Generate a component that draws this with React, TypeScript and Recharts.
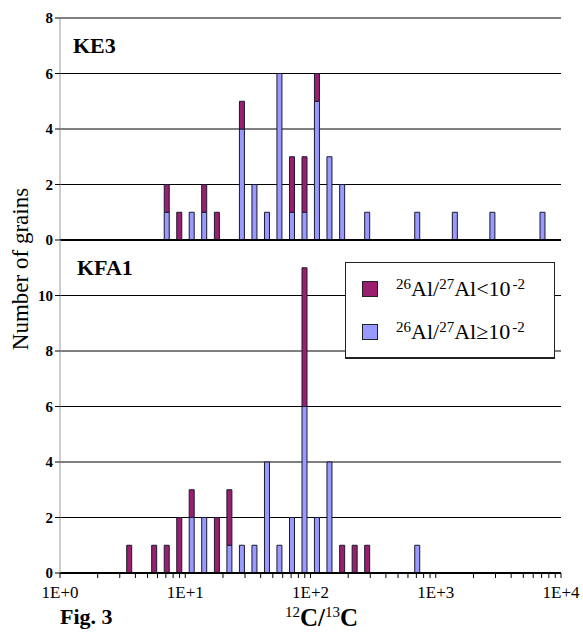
import { Bar, BarChart, CartesianGrid, Legend, XAxis, YAxis } from 'recharts'

// 12C/13C bin centres (log bins, 0.1 dex wide)
const ratioBins = [
  3.55, 5.62, 7.08, 8.91, 11.2, 14.1, 17.8, 22.4, 28.2, 35.5, 44.7, 56.2,
  70.8, 89.1, 112, 141, 178, 224, 282, 708, 1413, 2818, 7079,
]

// number of grains per bin; "low" = 26Al/27Al < 1e-2, "high" = 26Al/27Al >= 1e-2
const ke3Low = [0, 0, 1, 1, 0, 1, 1, 0, 1, 0, 0, 0, 2, 2, 1, 0, 0, 0, 0, 0, 0, 0, 0]
const ke3High = [0, 0, 1, 0, 1, 1, 0, 0, 4, 2, 1, 6, 1, 1, 5, 3, 2, 0, 1, 1, 1, 1, 1]
const kfa1Low = [1, 1, 1, 2, 1, 0, 2, 2, 0, 0, 0, 0, 0, 5, 0, 0, 1, 1, 1, 0, 0, 0, 0]
const kfa1High = [0, 0, 0, 0, 2, 2, 0, 1, 1, 1, 4, 1, 2, 6, 2, 4, 0, 0, 0, 1, 0, 0, 0]

const decades = [0, 1, 2, 3, 4] // exponents of the x axis labels
const ke3Ticks = [0, 2, 4, 6, 8]
const kfa1Ticks = [0, 2, 4, 6, 8, 10]

const RED = '#9a1f6f'
const BLUE = '#9999ff'
const FONT = 'Liberation Serif, DejaVu Serif, serif'

function buildData(low: number[], high: number[]) {
  return ratioBins.map((r, i) => ({ x: Math.log10(r), low: low[i], high: high[i] }))
}

// major ticks at each decade plus minor ticks 2..9 inside each decade
const logTicks: number[] = []
decades.forEach((d) => {
  logTicks.push(d)
  if (d < 4) for (let m = 2; m <= 9; m++) logTicks.push(d + Math.log10(m))
})

const fmtDecade = (v: number) => (Math.abs(v - Math.round(v)) < 1e-9 ? `1E+${Math.round(v)}` : '')

const sup = (t: string, top = -7, size = 15) => (
  <span style={{ fontSize: size, position: 'relative', top }}>{t}</span>
)

const legendLabels: Record<string, any> = {
  low: (
    <>
      {sup('26')}Al/{sup('27')}Al&lt;10<span style={{ marginLeft: 2 }}>{sup('-2')}</span>
    </>
  ),
  high: (
    <>
      {sup('26')}Al/{sup('27')}Al≥10<span style={{ marginLeft: 2 }}>{sup('-2')}</span>
    </>
  ),
}

function LegendBox(props: any) {
  const items = [...(props.payload || [])].reverse()
  return (
    <div
      style={{
        width: 208,
        height: 94,
        background: '#fff',
        border: '1px solid #222',
        borderBottomWidth: 2,
        fontFamily: FONT,
        fontSize: 22,
        color: '#000',
        position: 'relative',
      }}
    >
      {items.map((it: any, i: number) => (
        <div key={it.dataKey} style={{ position: 'absolute', left: 16, top: 13 + i * 43, height: 26, display: 'flex', alignItems: 'center', whiteSpace: 'nowrap' }}>
          <span style={{ width: 14, height: 14, background: it.color, border: '1px solid #222', display: 'inline-block', marginRight: 18 }} />
          <span>{legendLabels[it.dataKey]}</span>
        </div>
      ))}
    </div>
  )
}

const yTick = { fill: '#000', fontSize: 15, fontWeight: 'bold' as const, fontFamily: FONT }

export default function App() {
  const ke3 = buildData(ke3Low, ke3High)
  const kfa1 = buildData(kfa1Low, kfa1High)
  return (
    <div style={{ position: 'absolute', left: 0, top: 0, width: 583, height: 633, background: '#fff', fontFamily: FONT }}>
      <div style={{ position: 'absolute', left: 0, top: 0 }}>
        <BarChart width={583} height={250} data={ke3} margin={{ top: 18, right: 22, left: 0, bottom: 0 }} barGap={0}>
          <CartesianGrid vertical={false} stroke="#000" />
          <XAxis
            dataKey="x"
            type="number"
            domain={[0, 4]}
            ticks={decades}
            allowDataOverflow
            height={10}
            tick={false}
            tickLine={false}
            axisLine={{ stroke: '#000', strokeWidth: 2 }}
          />
          <YAxis
            domain={[0, 8]}
            ticks={ke3Ticks}
            interval={0}
            width={60}
            tickSize={5}
            tick={yTick}
            axisLine={{ stroke: '#999' }}
            tickLine={{ stroke: '#000' }}
          />
          <YAxis yAxisId="r" orientation="right" width={0} tick={false} tickLine={false} axisLine={{ stroke: '#999', strokeWidth: 2 }} />
          <Bar dataKey="high" stackId="a" fill={BLUE} stroke="#1a1a2e" strokeWidth={1} barSize={5} isAnimationActive={false} />
          <Bar dataKey="low" stackId="a" fill={RED} stroke="#1a1a2e" strokeWidth={1} barSize={5} isAnimationActive={false} />
        </BarChart>
      </div>
      <div style={{ position: 'absolute', left: 0, top: 230 }}>
        <BarChart width={583} height={403} data={kfa1} margin={{ top: 10, right: 22, left: 0, bottom: 0 }} barGap={0}>
          <CartesianGrid vertical={false} stroke="#000" />
          <XAxis
            dataKey="x"
            type="number"
            domain={[0, 4]}
            ticks={logTicks}
            interval={0}
            allowDataOverflow
            height={60}
            tickSize={5}
            tickMargin={8}
            tickFormatter={fmtDecade}
            tick={{ fill: '#000', fontSize: 17, fontFamily: FONT }}
            tickLine={{ stroke: '#000' }}
            axisLine={{ stroke: '#000', strokeWidth: 2 }}
          />
          <YAxis
            domain={[0, 12]}
            ticks={kfa1Ticks}
            interval={0}
            width={60}
            tickSize={5}
            tick={yTick}
            axisLine={{ stroke: '#999' }}
            tickLine={{ stroke: '#000' }}
          />
          <YAxis yAxisId="r" orientation="right" width={0} tick={false} tickLine={false} axisLine={{ stroke: '#999', strokeWidth: 2 }} />
          <Legend
            layout="horizontal"
            verticalAlign="middle"
            align="center"
            content={<LegendBox />}
            wrapperStyle={{ position: 'absolute', left: 345, top: 32, width: 210, height: 96 }}
          />
          <Bar dataKey="high" stackId="a" fill={BLUE} stroke="#1a1a2e" strokeWidth={1} barSize={5} isAnimationActive={false} />
          <Bar dataKey="low" stackId="a" fill={RED} stroke="#1a1a2e" strokeWidth={1} barSize={5} isAnimationActive={false} />
        </BarChart>
      </div>

      <div style={{ position: 'absolute', left: 73, top: 35, fontSize: 22, fontWeight: 'bold', lineHeight: 1 }}>KE3</div>
      <div style={{ position: 'absolute', left: 77, top: 257, fontSize: 22, fontWeight: 'bold', lineHeight: 1 }}>KFA1</div>
      <div
        style={{
          position: 'absolute',
          left: 21 - 150,
          top: 269 - 12,
          width: 300,
          height: 24,
          lineHeight: '24px',
          textAlign: 'center',
          fontSize: 23,
          transform: 'rotate(-90deg)',
        }}
      >
        Number of grains
      </div>
      <div style={{ position: 'absolute', left: 60, top: 606, fontSize: 22, fontWeight: 'bold', lineHeight: 1 }}>Fig. 3</div>
      <div style={{ position: 'absolute', left: 285, top: 605, fontSize: 25, fontWeight: 'bold', lineHeight: 1, whiteSpace: 'nowrap' }}>
        <span style={{ fontSize: 15, fontWeight: 'normal', position: 'relative', top: -9 }}>12</span>C/
        <span style={{ fontSize: 15, fontWeight: 'normal', position: 'relative', top: -9 }}>13</span>C
      </div>
    </div>
  )
}
